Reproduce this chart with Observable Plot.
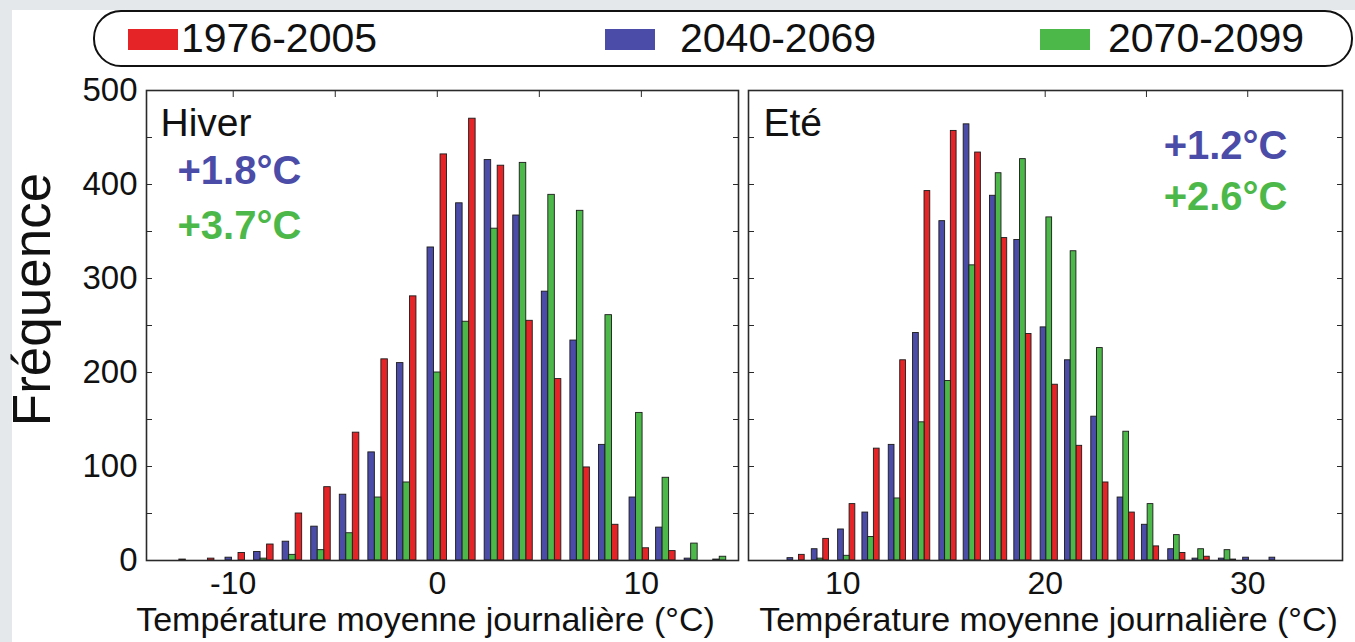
<!DOCTYPE html>
<html>
<head>
<meta charset="utf-8">
<script src="https://cdn.jsdelivr.net/npm/d3@7"></script>
<script src="https://cdn.jsdelivr.net/npm/@observablehq/plot@0.6"></script>
<style>
  html, body { margin: 0; padding: 0; background: #e4e8ea; }
  #page { position: relative; width: 1355px; height: 642px; overflow: hidden; background: #e4e8ea;
          font-family: "Liberation Sans", Arial, Helvetica, sans-serif; }
  #white { position: absolute; left: 12px; top: 10px; right: 0; bottom: 0; background: #fff; }
  .plot { position: absolute; left: 0; top: 0; }
  #legend { position: absolute; left: 93px; top: 10px; width: 1256px; height: 53px;
            border: 2px solid #111; border-radius: 28px; background: #fff; }
  .sw { position: absolute; top: 29px; width: 50px; height: 21px; }
  .lt { position: absolute; top: 18px; font-size: 41px; line-height: 41px; color: #111; white-space: nowrap; }
</style>
</head>
<body>
<div id="page">
  <div id="white"></div>
  <div id="legend"></div>
</div>
<script>
// ---------- data ----------
const series = ["1976-2005", "2040-2069", "2070-2099"];
const colors = ["#e52427", "#4b4ba8", "#4db84a"];
// position of each series inside a bin group (blue, green, red)
const slot = { "2040-2069": -1, "2070-2099": 0, "1976-2005": 1 };

// Hiver (winter) bin centres, °C
const winterBins = [-12.8, -11.4, -9.9, -8.5, -7.1, -5.7, -4.3, -2.9, -1.5, 0.0,
                    1.4, 2.8, 4.2, 5.6, 7.0, 8.4, 9.9, 11.2, 12.6, 14.0];
const winter1976 = [1, 2, 8, 17, 50, 78, 136, 214, 281, 432, 470, 420, 255, 193, 99, 38, 13, 10, 0, 0];
const winter2040 = [0, 0, 3, 9, 20, 36, 70, 115, 210, 333, 380, 426, 367, 286, 234, 123, 67, 35, 2, 1];
const winter2070 = [0, 0, 0, 2, 6, 11, 29, 67, 83, 200, 254, 353, 423, 389, 372, 261, 157, 88, 18, 4];

// Eté (summer) bin centres, °C
const summerBins = [7.7, 8.9, 10.2, 11.4, 12.7, 13.9, 15.2, 16.4, 17.7, 18.9,
                    20.2, 21.4, 22.7, 24.0, 25.2, 26.5, 27.7, 29.0, 30.2, 31.5];
const summer1976 = [6, 23, 60, 119, 213, 393, 457, 434, 343, 241, 187, 122, 83, 51, 15, 8, 4, 1, 0, 0];
const summer2040 = [2.5, 12, 33, 51, 123, 242, 361, 464, 388, 341, 248, 213, 153, 67, 38, 12, 2, 2, 3, 3];
const summer2070 = [0, 2, 5, 25, 66, 147, 191, 314, 412, 427, 365, 329, 226, 137, 60, 27, 12, 11, 0, 0];

const yTicks = [0, 50, 100, 150, 200, 250, 300, 350, 400, 450, 500];
const yLabels = [0, 100, 200, 300, 400, 500];
const winterTopTicks = [-10, -5, 0, 5, 10];
const winterLabels = [-10, 0, 10];
const summerTopTicks = [20, 25, 30];
const summerLabels = [10, 20, 30];

const xTitle = "Température moyenne journalière (°C)";
const yTitle = "Fréquence";
const FONT = '"Liberation Sans", Arial, Helvetica, sans-serif';

// ---------- build tables ----------
function table(bins, a, b, c) {
  const out = [];
  bins.forEach((t, i) => {
    out.push({ t, s: series[0], v: a[i] });
    out.push({ t, s: series[1], v: b[i] });
    out.push({ t, s: series[2], v: c[i] });
  });
  return out;
}
const winterRows = table(winterBins, winter1976, winter2040, winter2070);
const summerRows = table(summerBins, summer1976, summer2040, summer2070);

function panel(o) {
  const pitch = (o.bins[o.bins.length - 1] - o.bins[0]) / (o.bins.length - 1);
  const w = pitch * 0.226;
  const fmt = d => String(d);
  return Plot.plot({
    width: 1355, height: 642,
    marginLeft: o.marginLeft, marginRight: o.marginRight, marginTop: 90, marginBottom: 82,
    style: { background: "transparent", fontFamily: FONT, color: "#111", overflow: "visible" },
    x: { domain: o.domain, axis: null },
    y: { domain: [0, 500], axis: null },
    color: { domain: series, range: colors },
    marks: [
      Plot.rect(o.rows, {
        x1: d => d.t + slot[d.s] * w - w / 2,
        x2: d => d.t + slot[d.s] * w + w / 2,
        y1: () => 0, y2: "v",
        fill: "s", stroke: "#1b1b1b", strokeWidth: 0.9
      }),
      Plot.frame({ stroke: "#2a2a2a", strokeWidth: 1.6 }),
      Plot.axisY({ anchor: "left", ticks: yTicks, tickSize: -6, tickFormat: () => "", label: null, stroke: "#2a2a2a" }),
      Plot.axisY({ anchor: "right", ticks: yTicks, tickSize: -6, tickFormat: () => "", label: null, stroke: "#2a2a2a" }),
      ...(o.showY ? [
        Plot.axisY({ anchor: "left", ticks: yLabels, tickSize: 0, tickPadding: 9, fontSize: 33, tickFormat: fmt, label: null }),
        Plot.text([yTitle], { frameAnchor: "left", rotate: -90, dx: -113, dy: -26, fontSize: 53, textAnchor: "middle", lineAnchor: "middle", fill: "#111" })
      ] : []),
      Plot.axisX({ anchor: "top", ticks: o.topTicks, tickSize: -6, tickFormat: () => "", label: null, stroke: "#2a2a2a" }),
      Plot.axisX({ anchor: "bottom", ticks: o.labels, tickSize: 0, tickPadding: 11, fontSize: 32, tickFormat: fmt, label: null }),
      Plot.text([xTitle], { frameAnchor: "bottom", lineAnchor: "bottom", dx: o.titleDx, dy: 70, fontSize: 34, fill: "#111" }),
      ...o.notes.map(n => Plot.text([n.text], {
        frameAnchor: n.anchor, textAnchor: n.anchor === "top-left" ? "start" : "end", lineAnchor: "top",
        dx: n.dx, dy: n.dy, fontSize: n.size, fontWeight: n.bold ? "bold" : "normal", fill: n.color
      }))
    ]
  });
}

const leftPlot = panel({
  rows: winterRows, bins: winterBins, domain: [-14.25, 14.76],
  marginLeft: 146, marginRight: 1355 - 738,
  topTicks: winterTopTicks, labels: winterLabels, showY: true, titleDx: -17,
  notes: [
    { text: "Hiver", anchor: "top-left", dx: 14, dy: 18, size: 39, color: "#111" },
    { text: "+1.8°C", anchor: "top-left", dx: 31, dy: 65, size: 40, bold: true, color: "#4b4ba8" },
    { text: "+3.7°C", anchor: "top-left", dx: 31, dy: 120, size: 40, bold: true, color: "#4db84a" }
  ]
});
const rightPlot = panel({
  rows: summerRows, bins: summerBins, domain: [5.35, 34.68],
  marginLeft: 748, marginRight: 1355 - 1342,
  topTicks: summerTopTicks, labels: summerLabels, showY: false, titleDx: 3,
  notes: [
    { text: "Eté", anchor: "top-left", dx: 15, dy: 18, size: 39, color: "#111" },
    { text: "+1.2°C", anchor: "top-right", dx: -55, dy: 40, size: 40, bold: true, color: "#4b4ba8" },
    { text: "+2.6°C", anchor: "top-right", dx: -55, dy: 91, size: 40, bold: true, color: "#4db84a" }
  ]
});

const page = document.getElementById("page");
leftPlot.classList.add("plot");
rightPlot.classList.add("plot");
page.appendChild(leftPlot);
page.appendChild(rightPlot);

// ---------- legend ----------
const legendPos = [
  { sw: 128, tx: 181 },
  { sw: 605, tx: 680 },
  { sw: 1040, tx: 1108 }
];
series.forEach((s, i) => {
  const sw = document.createElement("div");
  sw.className = "sw";
  sw.style.left = legendPos[i].sw + "px";
  sw.style.background = colors[i];
  page.appendChild(sw);
  const t = document.createElement("div");
  t.className = "lt";
  t.style.left = legendPos[i].tx + "px";
  t.textContent = s;
  page.appendChild(t);
});
</script>
</body>
</html>
